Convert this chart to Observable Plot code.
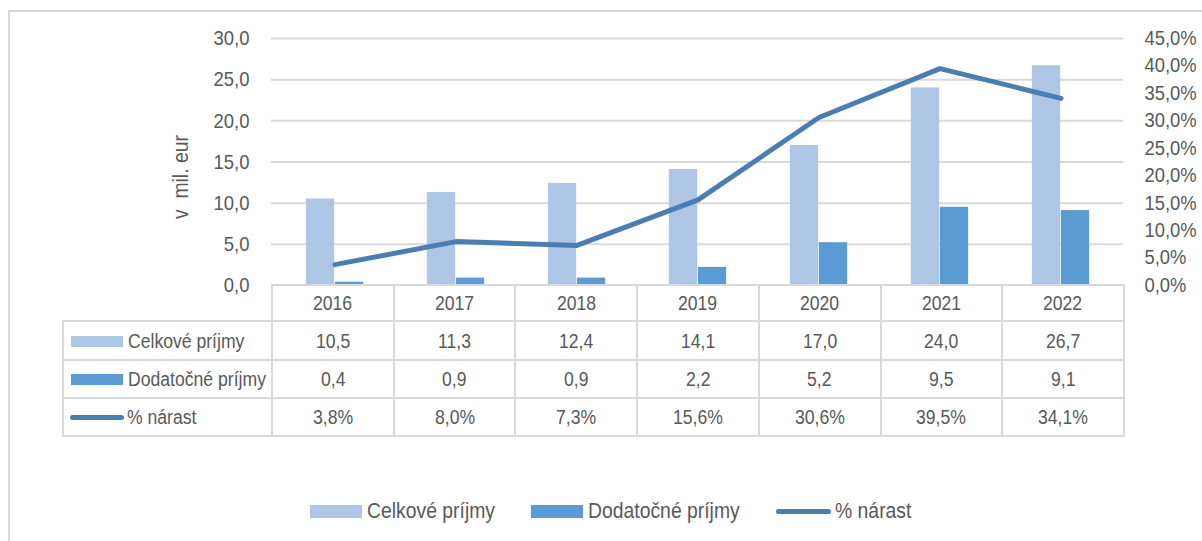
<!DOCTYPE html>
<html>
<head>
<meta charset="utf-8">
<script src="https://cdn.jsdelivr.net/npm/d3@7"></script>
<script src="https://cdn.jsdelivr.net/npm/@observablehq/plot@0.6"></script>
<style>
  html, body { margin: 0; padding: 0; background: #fff; }
  #wrap { position: relative; width: 1202px; height: 541px; overflow: hidden;
    font-family: "Liberation Sans", Arial, sans-serif; color: #595959; }
  #border { position: absolute; left: 8px; top: 10px; width: 1300px; height: 700px; border: 2px solid #d9d9d9; }
  #chart { position: absolute; left: 0; top: 0; }
  #chart svg text { white-space: pre; }
  #tbl { position: absolute; left: 62px; top: 284px; border-collapse: collapse; table-layout: fixed; }
  #tbl td { border: 2px solid #d9d9d9; text-align: center; font-size: 20px; padding: 0; color: #595959; }
  #tbl td.blank { border: none; }
  #tbl td.lab { text-align: left; white-space: nowrap; }
  .sw { display: inline-block; width: 52px; height: 11px; vertical-align: middle; margin: 0 5px 0 7px; }
  .ln { display: inline-block; width: 54px; height: 5px; border-radius: 3px; vertical-align: middle; margin: 0 3px 0 6px; }
  .nw { display: inline-block; white-space: nowrap; vertical-align: middle; overflow: visible; }
  .nw > .in { display: inline-block; white-space: pre; transform-origin: 0 50%; }
  #legend { position: absolute; left: 0; top: 496px; width: 1202px; box-sizing: border-box; padding-left: 20px;
    display: flex; justify-content: center; font-size: 22px; height: 30px; align-items: center; }
  #legend span.item { display: inline-flex; align-items: center; margin: 0 18px; }
  #legend .sw { width: 52px; height: 13px; margin: 0 5px 0 0; }
  #legend .ln { width: 55px; height: 5px; margin: 0 4px 0 0; }
</style>
</head>
<body>
<div id="wrap">
  <div id="border"></div>
  <div id="chart"></div>
  <table id="tbl"></table>
  <div id="legend"></div>
</div>
<script>
const years = ["2016", "2017", "2018", "2019", "2020", "2021", "2022"];
const celkove = [10.5, 11.3, 12.4, 14.1, 17.0, 24.0, 26.7];
const dodatocne = [0.4, 0.9, 0.9, 2.2, 5.2, 9.5, 9.1];
const narast = [3.8, 8.0, 7.3, 15.6, 30.6, 39.5, 34.1];
const leftTicks = [0, 5, 10, 15, 20, 25, 30];
const rightTicks = [0, 5, 10, 15, 20, 25, 30, 35, 40, 45];
const seriesNames = ["Celkové príjmy", "Dodatočné príjmy", "% nárast"];
const yTitle = "v  mil. eur";

const colLight = "#adc6e6";
const colDark = "#5b9bd5";
const colLine = "#4a7eb1";
const gridCol = "#d9d9d9";
const textCol = "#595959";
const K = 0.88; // horizontal condensing of the Liberation Sans glyphs (narrow look)

const leftMax = 30, rightMax = 45;
const toLeft = p => p * leftMax / rightMax;
const fmt1 = v => v.toFixed(1).replace(".", ",");

const data = years.map((y, i) => ({year: y, celk: celkove[i], dod: dodatocne[i], pct: narast[i]}));

const W = 1202, plotLeft = 271, plotRight = 1123;
const colW = (plotRight - plotLeft) / years.length;
const barW = 29;

const chart = Plot.plot({
  width: W,
  height: 300,
  marginTop: 38,
  marginBottom: 15,
  marginLeft: plotLeft,
  marginRight: W - plotRight,
  style: {fontFamily: "'Liberation Sans', Arial, sans-serif", color: textCol, background: "transparent", overflow: "visible"},
  x: {type: "band", domain: years, padding: 0, axis: null},
  y: {domain: [0, leftMax], axis: null},
  marks: [
    Plot.gridY(leftTicks.filter(d => d > 0), {stroke: gridCol, strokeOpacity: 1, strokeWidth: 2}),
    Plot.barY(data, {x: "year", y: "celk", fill: colLight, insetLeft: colW / 2 - barW, insetRight: colW / 2}),
    Plot.barY(data, {x: "year", y: "dod", fill: colDark, insetLeft: colW / 2, insetRight: colW / 2 - barW}),
    Plot.line(data, {x: "year", y: d => toLeft(d.pct), stroke: colLine, strokeWidth: 5, strokeLinecap: "round", strokeLinejoin: "round"}),
    Plot.axisY(leftTicks, {anchor: "left", tickSize: 0, tickPadding: 22, fontSize: 21, tickFormat: fmt1, label: null}),
    Plot.axisY(rightTicks.map(toLeft), {anchor: "right", tickSize: 0, tickPadding: 21, fontSize: 20, className: "raxis",
      tickFormat: (d, i) => fmt1(rightTicks[i]) + "%", label: null}),
    Plot.text([yTitle], {text: d => d, frameAnchor: "left", rotate: -90, textAnchor: "start", dx: -91, dy: 57, fontSize: 22, fill: textCol})
  ]
});
document.getElementById("chart").appendChild(chart);
chart.querySelectorAll("text").forEach(t => {
  const L = t.getComputedTextLength();
  const k = t.closest(".raxis") ? 0.92 : K;
  if (L > 0) { t.setAttribute("textLength", L * k); t.setAttribute("lengthAdjust", "spacingAndGlyphs"); }
});

const nw = s => `<span class="nw"><span class="in">${s}</span></span>`;

// data table
const tbl = document.getElementById("tbl");
const rowH = [36, 39, 38, 38];
let html = `<colgroup><col style="width:${plotLeft - 62}px">` + years.map(() => `<col style="width:${colW}px">`).join("") + `</colgroup>`;
html += `<tr style="height:${rowH[0]}px"><td class="blank"></td>` + years.map(y => `<td>${nw(y)}</td>`).join("") + `</tr>`;
const rows = [
  {name: seriesNames[0], key: `<span class="sw" style="background:${colLight}"></span>`, vals: celkove.map(fmt1)},
  {name: seriesNames[1], key: `<span class="sw" style="background:${colDark}"></span>`, vals: dodatocne.map(fmt1)},
  {name: seriesNames[2], key: `<span class="ln" style="background:${colLine}"></span>`, vals: narast.map(v => fmt1(v) + "%")}
];
rows.forEach((r, i) => {
  html += `<tr style="height:${rowH[i + 1]}px"><td class="lab">${r.key}${nw(r.name)}</td>` + r.vals.map(v => `<td>${nw(v)}</td>`).join("") + `</tr>`;
});
tbl.innerHTML = html;

// legend
const legend = document.getElementById("legend");
legend.innerHTML =
  `<span class="item"><span class="sw" style="background:${colLight}"></span>${nw(seriesNames[0])}</span>` +
  `<span class="item"><span class="sw" style="background:${colDark}"></span>${nw(seriesNames[1])}</span>` +
  `<span class="item"><span class="ln" style="background:${colLine}"></span>${nw(seriesNames[2])}</span>`;

// condense HTML texts the same way
document.querySelectorAll(".nw").forEach(o => {
  const inner = o.firstChild;
  const w = inner.getBoundingClientRect().width;
  inner.style.transform = `scaleX(${K})`;
  o.style.width = (w * K) + "px";
});
</script>
</body>
</html>
